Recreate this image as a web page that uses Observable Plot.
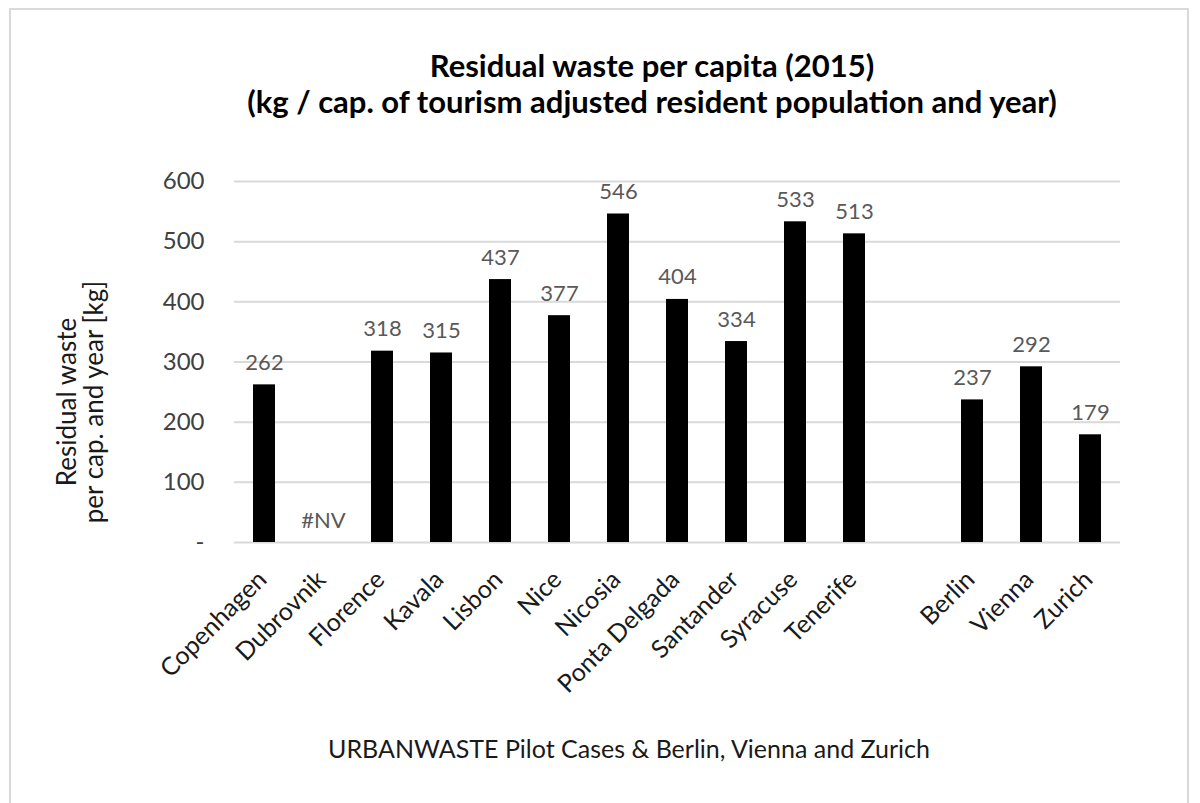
<!DOCTYPE html>
<html>
<head>
<meta charset="utf-8">
<script src="https://cdn.jsdelivr.net/npm/d3@7"></script>
<script src="https://cdn.jsdelivr.net/npm/@observablehq/plot@0.6"></script>
<style>
  html, body { margin: 0; padding: 0; background: #fff; }
  #wrap { position: relative; width: 1200px; height: 803px; overflow: hidden; font-family: Lato, "Open Sans", sans-serif; }
  #frame { position: absolute; left: 9px; top: 8px; width: 1180px; height: 810px; border: 2px solid #d9d9d9; box-sizing: border-box; }
  #chart { position: absolute; left: 0; top: 0; }
  .title { position: absolute; left: 0; width: 1304px; text-align: center; font-weight: bold; font-size: 31px; line-height: 36px; color: #000; white-space: nowrap; }
  #footer { position: absolute; left: 0; width: 1258px; top: 733px; text-align: center; font-size: 25px; line-height: 30px; color: #1a1a1a; white-space: nowrap; }
  #ylab { position: absolute; left: 80px; top: 402px; transform: translate(-50%, -50%) rotate(-90deg); text-align: center; font-size: 26px; line-height: 27px; color: #1a1a1a; white-space: nowrap; }
</style>
</head>
<body>
<div id="wrap">
  <div id="frame"></div>
  <div id="chart"></div>
  <div class="title" style="top:47px">Residual waste per capita (2015)</div>
  <div class="title" style="top:83px">(kg / cap. of tourism adjusted resident population and year)</div>
  <div id="ylab">Residual waste<br>per cap. and year [kg]</div>
  <div id="footer">URBANWASTE Pilot Cases &amp; Berlin, Vienna and Zurich</div>
</div>
<script>
const pilotCities = ["Copenhagen","Dubrovnik","Florence","Kavala","Lisbon","Nice","Nicosia","Ponta Delgada","Santander","Syracuse","Tenerife"];
const pilotValues = [262, null, 318, 315, 437, 377, 546, 404, 334, 533, 513];
const refCities = ["Berlin","Vienna","Zurich"];
const refValues = [237, 292, 179];
const yTicks = [0, 100, 200, 300, 400, 500, 600];
const spacer = " ";

const domain = [...pilotCities, spacer, ...refCities];
const rows = [
  ...pilotCities.map((c, i) => ({city: c, value: pilotValues[i]})),
  ...refCities.map((c, i) => ({city: c, value: refValues[i]}))
];
const withValue = rows.filter(d => d.value != null);
const missing = rows.filter(d => d.value == null);

const chart = Plot.plot({
  width: 1200,
  height: 803,
  marginLeft: 234,
  marginRight: 80,
  marginTop: 181,
  marginBottom: 261,
  style: {fontFamily: "Lato, 'Open Sans', sans-serif", background: "transparent"},
  x: {domain, paddingInner: 0.63, paddingOuter: 0.315, label: null},
  y: {domain: [0, 600], label: null},
  marks: [
    Plot.gridY(yTicks.filter(t => t > 0), {stroke: "#d9d9d9", strokeOpacity: 1, strokeWidth: 2}),
    Plot.ruleY([0], {stroke: "#d9d9d9", strokeWidth: 2}),
    Plot.barY(withValue, {x: "city", y: "value", fill: "#000"}),
    Plot.text(withValue, {x: "city", y: "value", text: d => String(d.value), dy: -22, fontSize: 22, fill: "#595959"}),
    Plot.text(missing, {x: "city", y: () => 0, text: () => "#NV", dy: -22, fontSize: 22, fill: "#595959"}),
    Plot.axisY({ticks: yTicks, tickSize: 0, tickPadding: 30, fontSize: 24, fill: "#404040", label: null,
      tickFormat: d => d === 0 ? "-" : String(d)}),
    Plot.axisX({tickSize: 0, tickPadding: 16, tickRotate: -45, fontSize: 25, fill: "#1a1a1a", label: null,
      dx: -2, dy: 17,
      tickFormat: d => d === spacer ? "" : d})
  ]
});
document.getElementById("chart").appendChild(chart);
</script>
</body>
</html>
